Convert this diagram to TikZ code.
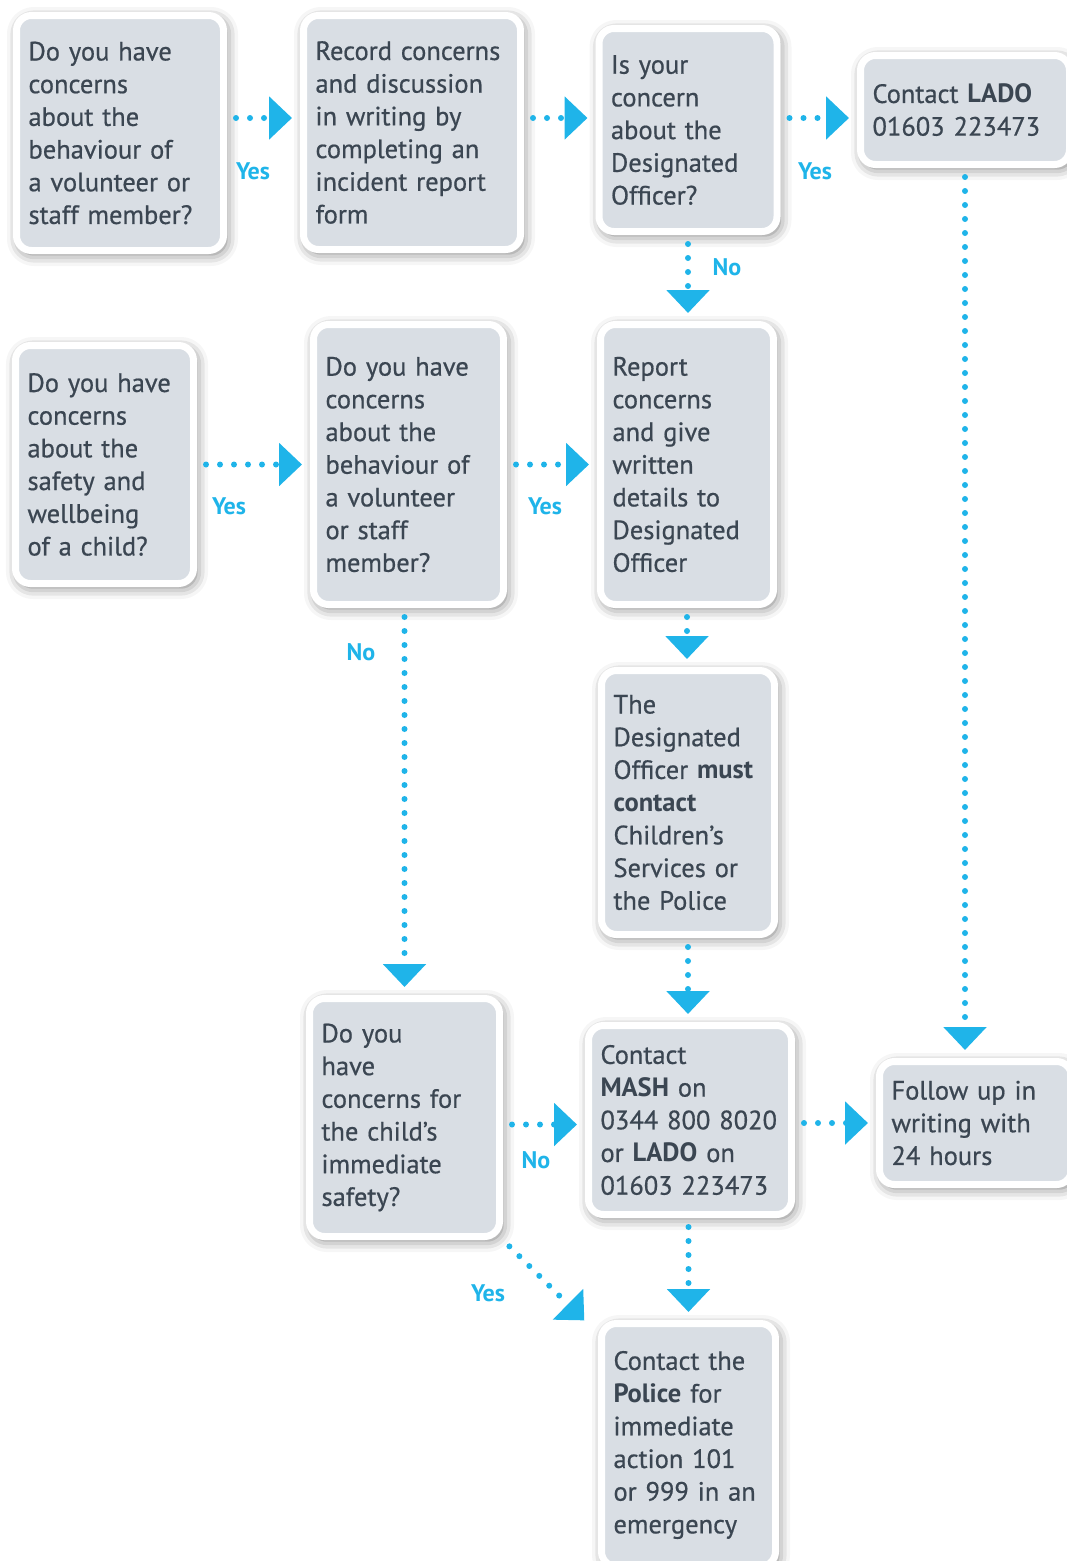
\documentclass[tikz,border=0pt]{standalone}
\usepackage{fontspec}
\setmainfont{PT Sans}[UprightFeatures={FakeBold=0.6}]
\usetikzlibrary{arrows.meta,shadows.blur}
\definecolor{flowblue}{HTML}{1FB4E9}
\definecolor{boxgrey}{HTML}{D9DEE4}
\definecolor{inkgrey}{HTML}{3B4652}

\begin{document}
\begin{tikzpicture}[x=1pt,y=-1pt,
    stepbox/.style={draw=white, line width=7pt, fill=boxgrey, rounded corners=15pt,
      text=inkgrey, align=left, inner xsep=12pt, inner ysep=0pt,
      font=\fontsize{26.5}{32.7}\selectfont,
      blur shadow={shadow xshift=2.5pt, shadow yshift=-3.5pt, shadow blur radius=12pt,
        shadow blur extra rounding=4pt, shadow opacity=55}},
    flow/.style={flowblue, line width=6pt, line cap=round, dash pattern=on 0pt off 14pt,
      shorten <=9pt, shorten >=3pt, -{Triangle[width=42pt,length=23pt,sep=5pt]}},
    answer/.style={text=flowblue, font=\fontsize{24}{24}\selectfont\bfseries}]
  \useasboundingbox (0,0) rectangle (1067,1561);

  % top row
  \node[stepbox, minimum height=235pt, text width=183pt] (concern) at (120,133)
    {Do you have\\concerns\\about the\\behaviour of\\a volunteer or\\staff member?};
  \node[stepbox, minimum height=234pt, text width=193pt] (record) at (412,132.5)
    {Record concerns\\and discussion\\in writing by\\completing an\\incident report\\form};
  \node[stepbox, minimum height=203pt, text width=154pt] (aboutdo) at (688,130)
    {Is your\\concern\\about the\\Designated\\Officer?};
  \node[stepbox, minimum height=109pt, text width=185pt] (lado) at (965,110)
    {Contact \textbf{LADO}\\01603 223473};

  % middle rows
  \node[stepbox, minimum height=238pt, text width=154pt] (child) at (104.5,464.5)
    {Do you have\\concerns\\about the\\safety and\\wellbeing\\of a child?};
  \node[stepbox, minimum height=280pt, text width=166pt] (behaviour) at (408.5,464.5)
    {Do you have\\concerns\\about the\\behaviour of\\a volunteer\\or staff\\member?};
  \node[stepbox, minimum height=280pt, text width=149pt] (report) at (687,464.5)
    {Report\\concerns\\and give\\written\\details to\\Designated\\Officer};
  \node[stepbox, minimum height=264pt, text width=149pt] (mustcontact) at (688,802.5)
    {The\\Designated\\Officer \textbf{must}\\\textbf{contact}\\Children’s\\Services or\\the Police};

  % bottom rows
  \node[stepbox, minimum height=238pt, text width=166pt] (immediate) at (404.5,1117.5)
    {Do you\\have\\concerns for\\the child’s\\immediate\\safety?};
  \node[stepbox, minimum height=189pt, text width=179pt] (mash) at (690,1120)
    {Contact\\\textbf{MASH} on\\0344 800 8020\\or \textbf{LADO} on\\01603 223473};
  \node[stepbox, minimum height=123pt, text width=168pt] (followup) at (975.5,1123)
    {Follow up in\\writing with\\24 hours};
  \node[stepbox, minimum height=243pt, text width=150pt] (police) at (688.5,1445)
    {Contact the\\\textbf{Police} for\\immediate\\action 101\\or 999 in an\\emergency};

  % connectors
  \draw[flow] ([yshift=15pt]concern.east) -- ([yshift=15pt]concern.east -| record.west);
  \draw[flow] ([yshift=14.5pt]record.east) -- ([yshift=14.5pt]record.east -| aboutdo.west);
  \draw[flow] ([yshift=12pt]aboutdo.east) -- ([yshift=12pt]aboutdo.east -| lado.west);
  \draw[flow] (aboutdo.south) -- (aboutdo.south |- report.north);
  \draw[flow] (lado.south) -- (lado.south |- followup.north);
  \draw[flow] (child.east) -- (behaviour.west);
  \draw[flow] (behaviour.east) -- (report.west);
  \draw[flow] (report.south) -- (report.south |- mustcontact.north);
  \draw[flow] (behaviour.south -| immediate.north) -- (immediate.north);
  \draw[flow] (mustcontact.south) -- (mustcontact.south |- mash.north);
  \draw[flow] ([yshift=-7pt]immediate.east) -- ([yshift=-7pt]immediate.east -| mash.west);
  \draw[flow] ([yshift=-3pt]mash.east) -- ([yshift=-3pt]mash.east -| followup.west);
  \draw[flow] (mash.south -| police.north) -- (police.north);
  \draw[flow] (immediate.south east) -- ([xshift=-8pt,yshift=-6pt]police.north west);

  % answers
  \node[answer] (yes1) at (253,171) {Yes};
  \node[answer] (yes2) at (815,171) {Yes};
  \node[answer] (no1) at (727,267) {No};
  \node[answer] (yes3) at (229,506) {Yes};
  \node[answer] (yes4) at (545,506) {Yes};
  \node[answer] (no2) at (361,652) {No};
  \node[answer] (no3) at (536,1160) {No};
  \node[answer] (yes5) at (488,1293) {Yes};
\end{tikzpicture}
\end{document}
